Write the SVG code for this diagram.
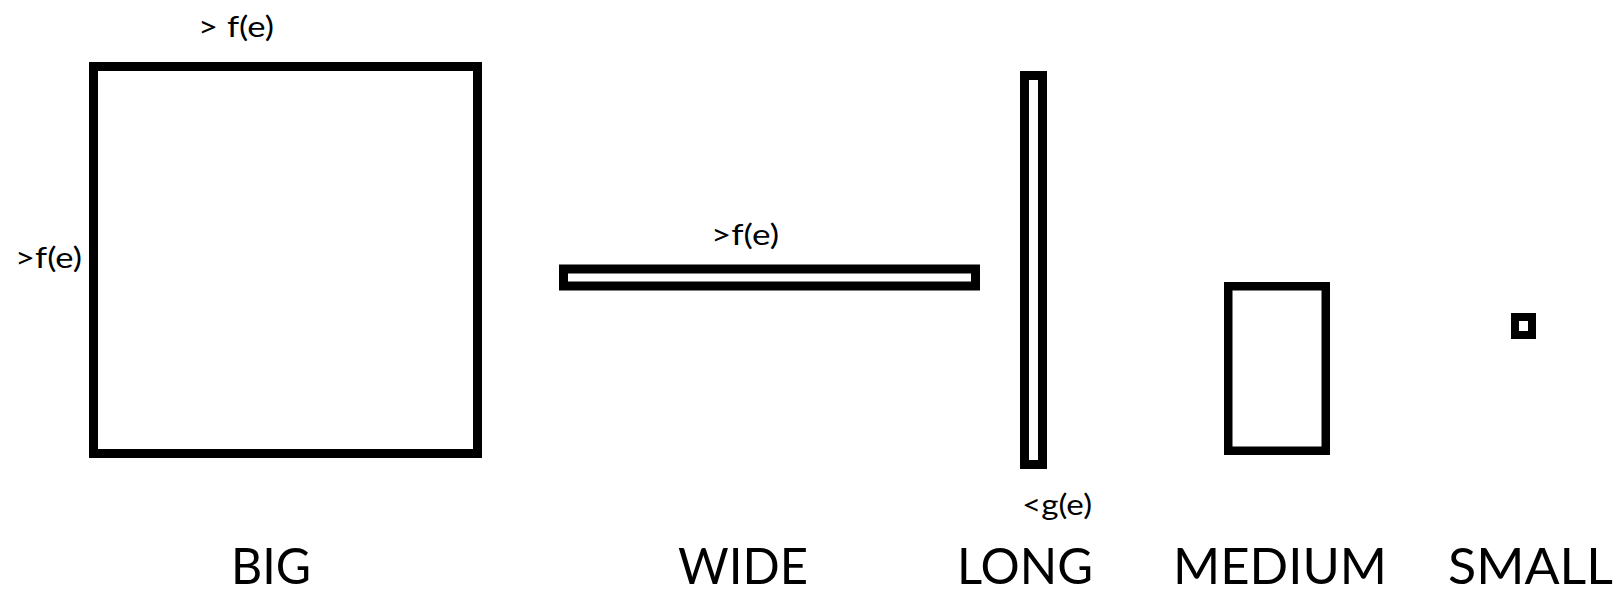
<svg xmlns="http://www.w3.org/2000/svg" width="1618" height="593" viewBox="0 0 1618 593">
  <style>
    .box { fill: none; stroke: #000; stroke-width: 9; }
    .note { font-family: Lato, "Open Sans", "Liberation Sans", sans-serif; font-size: 28px; fill: #000; }
    .name { font-family: Lato, "Open Sans", "Liberation Sans", sans-serif; font-size: 51px; fill: #000; }
  </style>
  <rect width="1618" height="593" fill="#fff"/>

  <g id="big">
    <rect class="box" x="93.5" y="66.5" width="384" height="387"/>
    <text class="note" x="198" y="37" textLength="76" lengthAdjust="spacingAndGlyphs">&gt; f(e)</text>
    <text class="note" x="15" y="268" textLength="67" lengthAdjust="spacingAndGlyphs">&gt;f(e)</text>
    <text class="name" x="231" y="584" textLength="80" lengthAdjust="spacingAndGlyphs">BIG</text>
  </g>

  <g id="wide">
    <rect class="box" x="563.5" y="269" width="412" height="17"/>
    <text class="note" x="711" y="245" textLength="68" lengthAdjust="spacingAndGlyphs">&gt;f(e)</text>
    <text class="name" x="678" y="584" textLength="130" lengthAdjust="spacingAndGlyphs">WIDE</text>
  </g>

  <g id="long">
    <rect class="box" x="1024.5" y="75.5" width="18" height="389"/>
    <text class="note" x="1022" y="515" textLength="70" lengthAdjust="spacingAndGlyphs">&lt;g(e)</text>
    <text class="name" x="957" y="584" textLength="136" lengthAdjust="spacingAndGlyphs">LONG</text>
  </g>

  <g id="medium">
    <rect class="box" x="1228.25" y="286.25" width="97.5" height="164.5" style="stroke-width:8.5"/>
    <text class="name" x="1173" y="584" textLength="214" lengthAdjust="spacingAndGlyphs">MEDIUM</text>
  </g>

  <g id="small">
    <rect class="box" x="1515" y="317" width="17" height="18" style="stroke-width:8"/>
    <text class="name" x="1448" y="584" textLength="165" lengthAdjust="spacingAndGlyphs">SMALL</text>
  </g>

  <g id="connectors"/>
</svg>
